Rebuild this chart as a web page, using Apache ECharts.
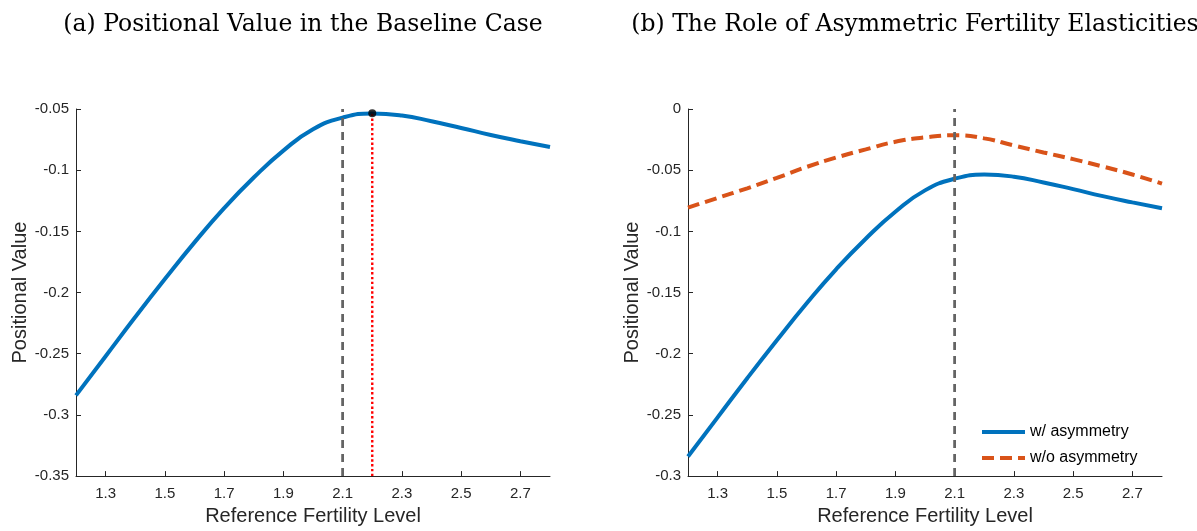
<!DOCTYPE html>
<html>
<head>
<meta charset="utf-8">
<script src="https://cdn.jsdelivr.net/npm/echarts@6/dist/echarts.min.js"></script>
<style>
  html, body { margin: 0; padding: 0; background: #fff; }
  #chart { width: 1197px; height: 531px; }
</style>
</head>
<body>
<div id="chart"></div>
<script>
// reference fertility levels (x)
const fertility = [1.2, 1.3, 1.4, 1.5, 1.6, 1.7, 1.8, 1.9, 2.0, 2.1, 2.2, 2.3, 2.4, 2.5, 2.6, 2.7, 2.8];
// positional value, baseline (= w/ asymmetry)
const baseline = [-0.284, -0.252, -0.220, -0.189, -0.159, -0.131, -0.106, -0.084, -0.0665, -0.0570, -0.0536,
                  -0.0553, -0.0600, -0.0655, -0.0712, -0.0763, -0.0811];
// positional value, w/o asymmetry
const noAsym = [-0.0806, -0.0727, -0.0648, -0.0563, -0.0474, -0.0397, -0.033, -0.0268, -0.0232, -0.0215, -0.024,
                -0.0298, -0.0355, -0.041, -0.047, -0.0535, -0.061];
const xTicks = [1.3, 1.5, 1.7, 1.9, 2.1, 2.3, 2.5, 2.7];
const replacementLevel = 2.1;
const optimumLevel = 2.2;
const optimumValue = -0.0535;
const yRangeA = [-0.35, -0.05];
const yRangeB = [-0.3, 0];

const pairs = (xs, ys) => xs.map((x, i) => [x, ys[i]]);

const axisColor = '#262626';
const sans = 'Liberation Sans, Arial, sans-serif';

function xAxisFor(idx) {
    return {
        gridIndex: idx,
        type: 'value',
        min: 1.2,
        max: 2.8,
        name: 'Reference Fertility Level',
        nameLocation: 'middle',
        nameGap: 27,
        nameTextStyle: { fontFamily: sans, fontSize: 20, color: axisColor },
        axisLine: { onZero: false, lineStyle: { color: axisColor, width: 1 } },
        axisTick: { inside: true, length: 5, customValues: xTicks, lineStyle: { color: axisColor } },
        axisLabel: {
            customValues: xTicks,
            margin: 10,
            fontFamily: sans,
            fontSize: 15,
            color: axisColor,
            formatter: v => v.toFixed(1)
        },
        splitLine: { show: false }
    };
}

function yAxisFor(idx, range, gap) {
    return {
        gridIndex: idx,
        type: 'value',
        min: range[0],
        max: range[1],
        interval: 0.05,
        name: 'Positional Value',
        nameLocation: 'middle',
        nameGap: gap,
        nameTextStyle: { fontFamily: sans, fontSize: 20, color: axisColor },
        axisLine: { show: true, onZero: false, lineStyle: { color: axisColor, width: 1 } },
        axisTick: { show: true, inside: true, length: 5, lineStyle: { color: axisColor } },
        axisLabel: {
            margin: 7,
            fontFamily: sans,
            fontSize: 15,
            color: axisColor,
            formatter: v => String(+v.toFixed(2))
        },
        splitLine: { show: false }
    };
}

const chart = echarts.init(document.getElementById('chart'));

const option = {
    backgroundColor: '#fff',
    animation: false,
    title: [
        {
            text: '(a) Positional Value in the Baseline Case',
            left: 298, top: 8, textAlign: 'center',
            textStyle: { fontFamily: 'DejaVu Serif', fontSize: 23.5, fontWeight: 'normal', color: '#000' }
        },
        {
            text: '(b) The Role of Asymmetric Fertility Elasticities',
            left: 910, top: 8, textAlign: 'center',
            textStyle: { fontFamily: 'DejaVu Serif', fontSize: 23.5, fontWeight: 'normal', color: '#000' }
        }
    ],
    grid: [
        { left: 76, top: 109, width: 474, height: 373 },
        { left: 688, top: 109, width: 474, height: 373 }
    ],
    xAxis: [xAxisFor(0), xAxisFor(1)],
    yAxis: [yAxisFor(0, yRangeA, 45), yAxisFor(1, yRangeB, 46)],
    legend: {
        left: 980,
        top: 424,
        padding: 0,
        orient: 'vertical',
        itemWidth: 43,
        itemHeight: 14,
        itemGap: 10,
        data: ['w/ asymmetry', 'w/o asymmetry'],
        itemStyle: { opacity: 0 },
        lineStyle: { width: 4 },
        textStyle: { fontFamily: sans, fontSize: 16, color: '#000', padding: [0, 0, 0, 0] }
    },
    series: [
        // panel (a)
        {
            name: 'baseline',
            type: 'line',
            xAxisIndex: 0, yAxisIndex: 0,
            data: pairs(fertility, baseline),
            smooth: true,
            symbol: 'none',
            lineStyle: { color: '#0072BD', width: 4 },
            z: 2
        },
        {
            type: 'line',
            xAxisIndex: 0, yAxisIndex: 0,
            data: [[replacementLevel, yRangeA[0]], [replacementLevel, yRangeA[1]]],
            symbol: 'none',
            lineStyle: { color: '#646464', width: 2.8, type: [8, 6] },
            z: 3
        },
        {
            type: 'line',
            xAxisIndex: 0, yAxisIndex: 0,
            data: [[optimumLevel, yRangeA[0]], [optimumLevel, optimumValue]],
            symbol: 'none',
            lineStyle: { color: '#ff0000', width: 2.4, type: [2.4, 2.4] },
            z: 4
        },
        {
            type: 'scatter',
            xAxisIndex: 0, yAxisIndex: 0,
            data: [[optimumLevel, optimumValue]],
            symbol: 'circle',
            symbolSize: 8,
            itemStyle: { color: '#000' },
            z: 5
        },
        // panel (b)
        {
            name: 'w/ asymmetry',
            type: 'line',
            xAxisIndex: 1, yAxisIndex: 1,
            data: pairs(fertility, baseline),
            smooth: true,
            symbol: 'none',
            color: '#0072BD',
            lineStyle: { color: '#0072BD', width: 4 },
            z: 2
        },
        {
            name: 'w/o asymmetry',
            type: 'line',
            xAxisIndex: 1, yAxisIndex: 1,
            data: pairs(fertility, noAsym),
            smooth: true,
            symbol: 'none',
            color: '#D95319',
            lineStyle: { color: '#D95319', width: 4, type: [12, 6] },
            z: 2
        },
        {
            type: 'line',
            xAxisIndex: 1, yAxisIndex: 1,
            data: [[replacementLevel, yRangeB[0]], [replacementLevel, yRangeB[1]]],
            symbol: 'none',
            lineStyle: { color: '#646464', width: 2.8, type: [8, 6] },
            z: 3
        }
    ]
};

chart.setOption(option);
</script>
</body>
</html>
